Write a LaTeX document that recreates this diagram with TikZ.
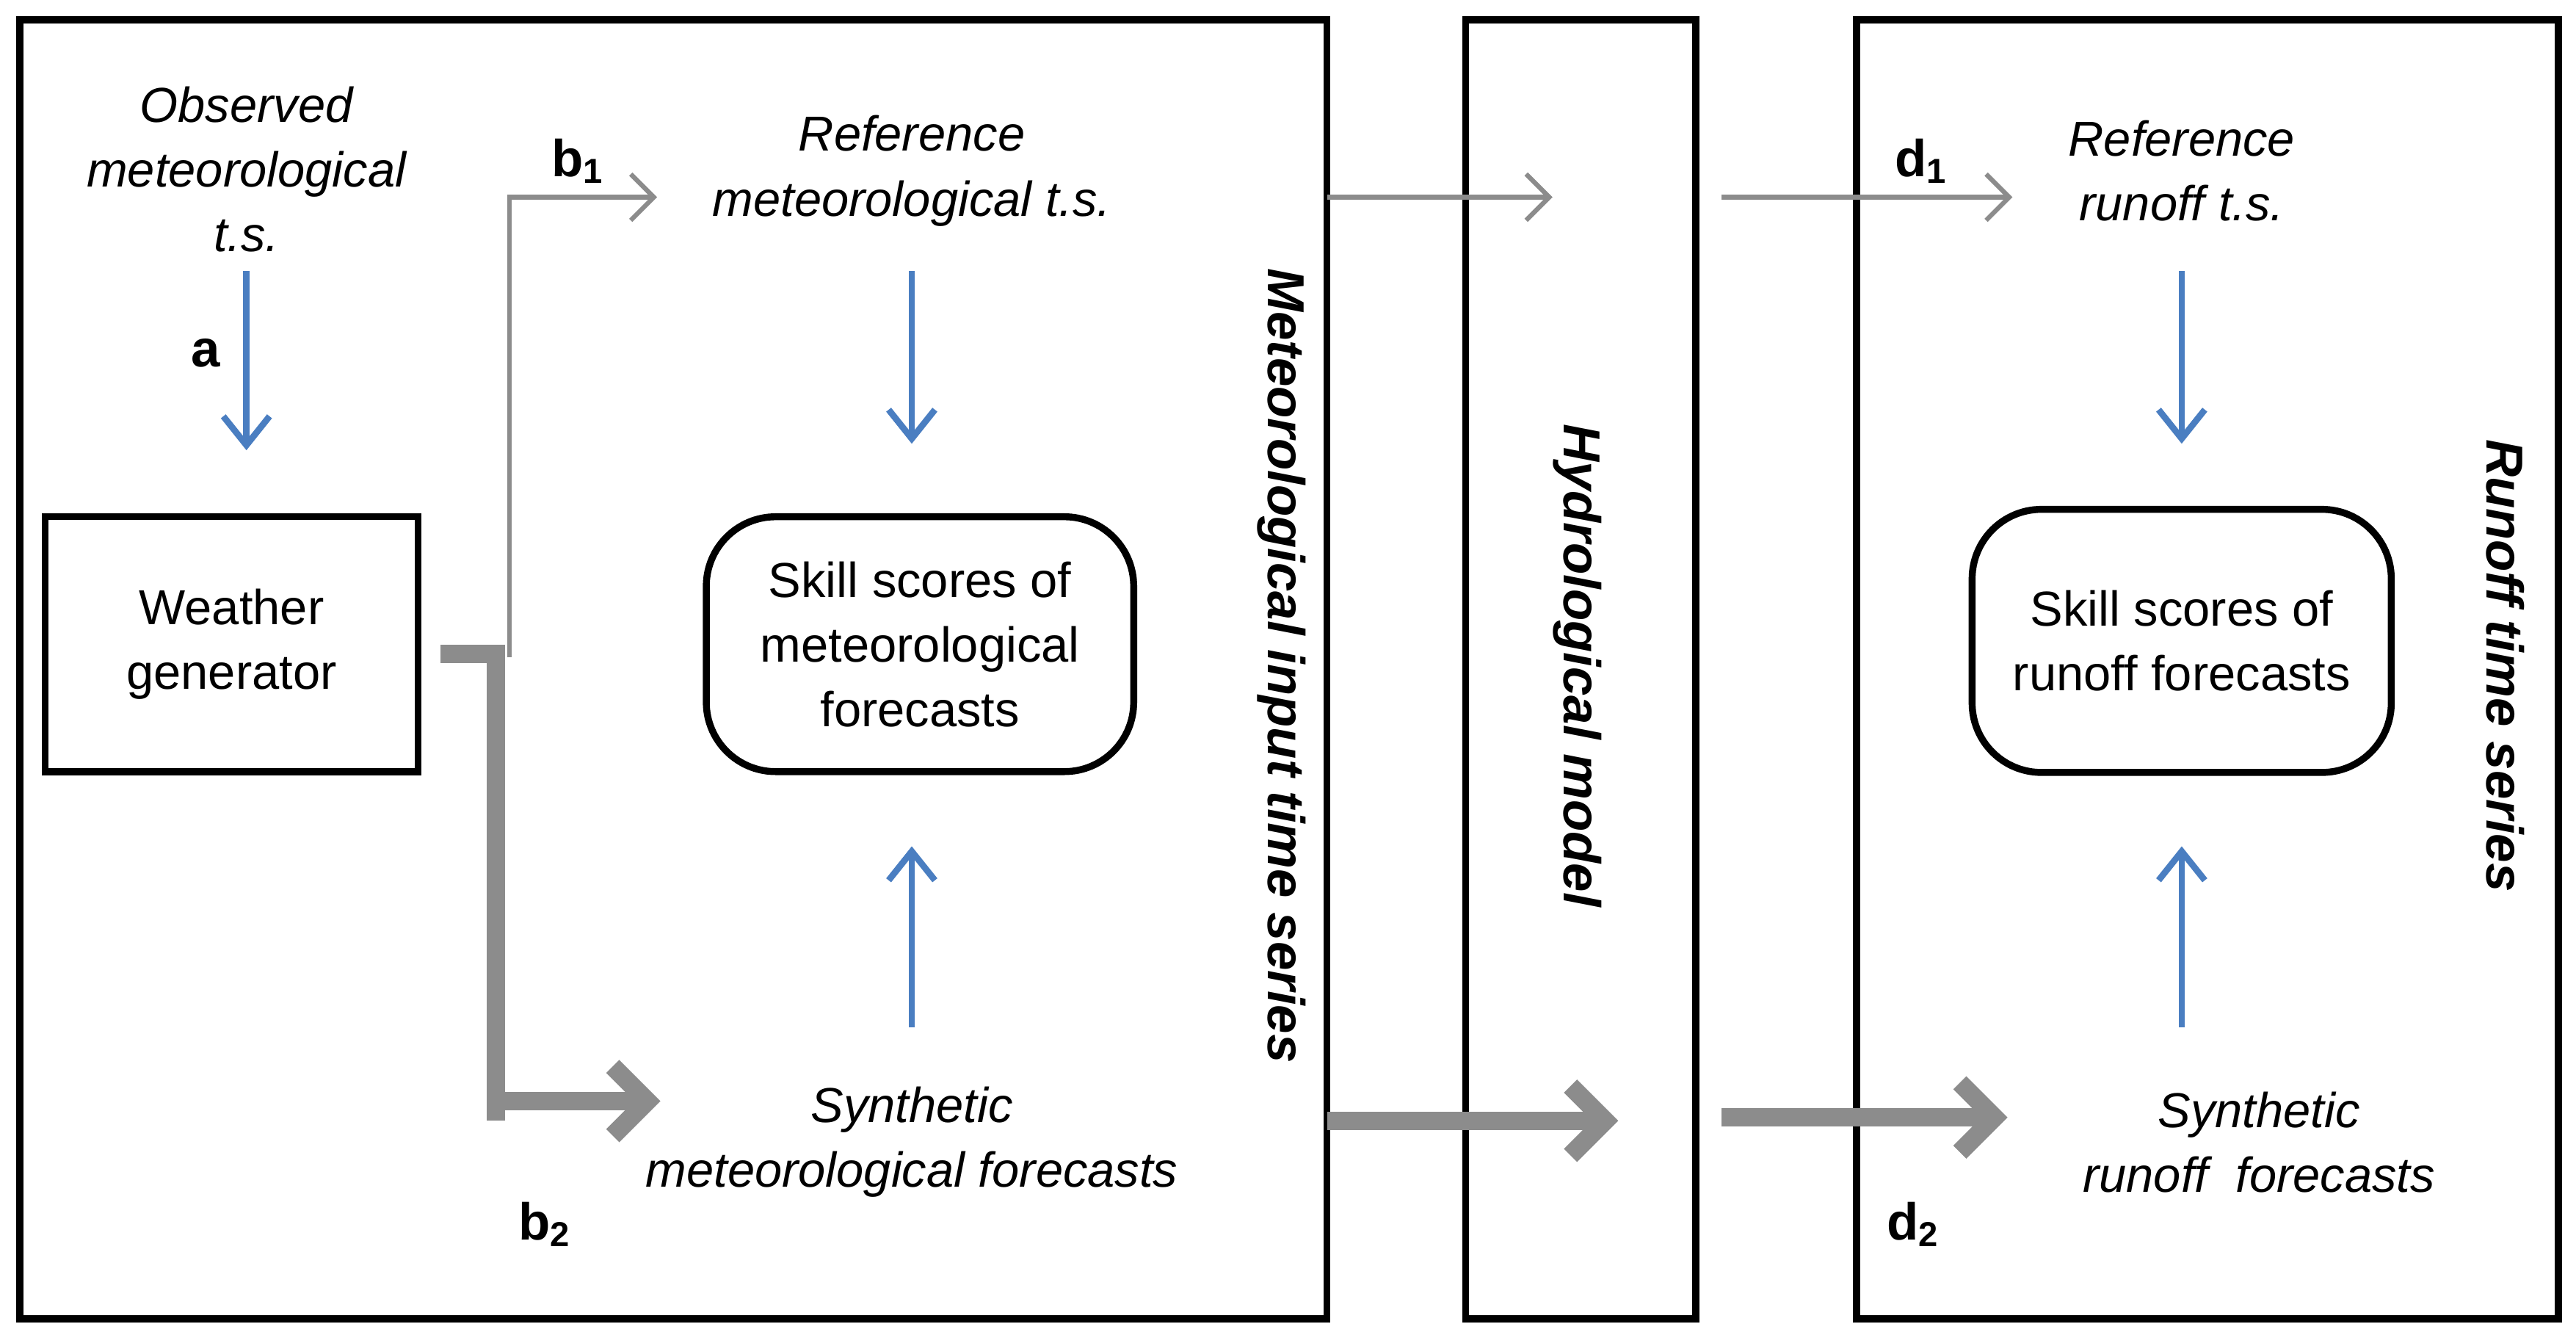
\documentclass[tikz,border=0pt]{standalone}
\usepackage{fontspec}
\setmainfont{Liberation Sans}
\usetikzlibrary{arrows.meta}
\begin{document}
\begin{tikzpicture}[x=0.01cm,y=-0.01cm,font=\fontsize{8.5}{11.2}\selectfont,
 frame/.style={draw=black,line width=1.2pt,inner sep=0pt},
 txt/.style={align=center,font=\fontsize{8.5}{11.2}\selectfont\itshape},
 vlab/.style={rotate=-90,font=\fontsize{9}{11}\selectfont\bfseries\itshape},
 lab/.style={font=\fontsize{9}{11}\selectfont\bfseries},
 blue/.style={draw={rgb,255:red,74;green,126;blue,193},line width=1.1pt,-{Straight Barb[length=5pt,width=8pt]}},
 thin/.style={draw=gray!90,line width=0.8pt,-{Straight Barb[length=4pt,width=8pt]}},
 thick/.style={draw=gray!90,line width=3.2pt,-{Straight Barb[length=6pt,width=12pt]}}]
\useasboundingbox (0,0) rectangle (1568,812);
\node[frame,minimum width=7.95cm,minimum height=7.9cm,anchor=north west] (L) at (10,10) {};
\node[frame,minimum width=1.4cm,minimum height=7.9cm,anchor=north west] (M) at (890,10) {};
\node[frame,minimum width=4.27cm,minimum height=7.9cm,anchor=north west] (R) at (1128,10) {};
\node[txt] (obs) at (150,103) {Observed\\meteorological\\t.s.};
\node[frame,minimum width=2.27cm,minimum height=1.55cm,align=center] (wg) at (141,392) {Weather\\generator};
\coordinate (a0) at (150,165); \coordinate (a1) at (150,274);
\draw[blue] (a0) -- (a1);
\node[lab] (la) at (125,215) {a};
\coordinate (s0) at (268,398); \coordinate (s1) at (302,398); \coordinate (s2) at (302,682);
\draw[draw=gray!90,line width=3.2pt] (s0) -- (s1) -- (s2);
\coordinate (t0) at (310,400); \coordinate (t1) at (310,120); \coordinate (t2) at (400,120);
\draw[thin] (t0) -- (t1) -- (t2);
\coordinate (u0) at (302,670); \coordinate (u1) at (402,670);
\draw[thick] (u0) -- (u1);
\node[lab] (b1) at (352,98) {b$_{\mathbf 1}$};
\node[lab] (b2) at (332,745) {b$_{\mathbf 2}$};
\node[txt] (refm) at (555,104) {Reference\\meteorological t.s.};
\node[draw,line width=1.2pt,rounded corners=12pt,minimum width=2.6cm,minimum height=1.55cm,align=center] (ssm) at (560,392) {Skill scores of\\meteorological\\forecasts};
\coordinate (c0) at (555,165); \coordinate (c1) at (555,270);
\draw[blue] (c0) -- (c1);
\coordinate (e0) at (555,625); \coordinate (e1) at (555,515);
\draw[blue] (e0) -- (e1);
\node[txt] (synm) at (555,695) {Synthetic\\meteorological forecasts};
\node[vlab] (vm) at (780,405) {Meteorological input time series};
\coordinate (f0) at (808,120); \coordinate (f1) at (945,120);
\draw[thin] (f0) -- (f1);
\coordinate (g0) at (808,682); \coordinate (g1) at (985,682);
\draw[thick] (g0) -- (g1);
\node[vlab] (vh) at (960,405) {Hydrological model};
\coordinate (h0) at (1048,120); \coordinate (h1) at (1225,120);
\draw[thin] (h0) -- (h1);
\coordinate (i0) at (1048,680); \coordinate (i1) at (1222,680);
\draw[thick] (i0) -- (i1);
\node[lab] (d1) at (1170,98) {d$_{\mathbf 1}$};
\node[lab] (d2) at (1165,745) {d$_{\mathbf 2}$};
\node[txt] (refr) at (1328,104) {Reference\\runoff t.s.};
\coordinate (j0) at (1328,165); \coordinate (j1) at (1328,270);
\draw[blue] (j0) -- (j1);
\node[draw,line width=1.2pt,rounded corners=12pt,minimum width=2.55cm,minimum height=1.6cm,align=center] (ssr) at (1328,390) {Skill scores of\\runoff forecasts};
\coordinate (k0) at (1328,625); \coordinate (k1) at (1328,515);
\draw[blue] (k0) -- (k1);
\node[txt] (synr) at (1375,695) {Synthetic\\runoff~ forecasts};
\node[vlab] (vr) at (1525,405) {Runoff time series};
\end{tikzpicture}
\end{document}
